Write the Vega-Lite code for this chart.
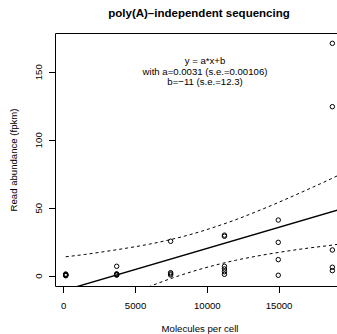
{
  "$schema": "https://vega.github.io/schema/vega-lite/v6.json",
  "width": 282,
  "height": 253,
  "autosize": {"type": "none"},
  "padding": {"left": 55, "top": 33, "right": 0, "bottom": 48},
  "view": {"stroke": "transparent", "fill": "white"},
  "title": {"text": "poly(A)–independent sequencing", "fontSize": 11.5, "fontWeight": "bold", "font": "Liberation Sans", "anchor": "middle", "offset": 5, "baseline": "alphabetic", "dx": 3, "color": "black"},
  "config": {
    "view": {"stroke": "transparent"},
    "style": {"cell": {"stroke": "transparent"}},
    "font": "Liberation Sans",
    "axis": {"grid": false, "domainColor": "black", "tickColor": "black", "labelColor": "black", "titleColor": "black", "labelFontSize": 9.6, "titleFontSize": 9.6, "titleFontWeight": "normal", "tickSize": 6.5, "domainWidth": 1, "tickWidth": 1, "labelFont": "Liberation Sans", "titleFont": "Liberation Sans"}
  },
  "datasets": {
    "pts": [
      {"mol": 170, "fpkm": 0}, {"mol": 170, "fpkm": 0.2}, {"mol": 170, "fpkm": 0.5}, {"mol": 170, "fpkm": 0.8}, {"mol": 170, "fpkm": 1.2},
      {"mol": 3720, "fpkm": 0.4}, {"mol": 3720, "fpkm": 0.7}, {"mol": 3720, "fpkm": 1.0}, {"mol": 3720, "fpkm": 1.3}, {"mol": 3720, "fpkm": 6.9},
      {"mol": 7480, "fpkm": 0.5}, {"mol": 7480, "fpkm": 1.3}, {"mol": 7480, "fpkm": 2.2}, {"mol": 7480, "fpkm": 25.3},
      {"mol": 11230, "fpkm": 1.0}, {"mol": 11230, "fpkm": 2.9}, {"mol": 11230, "fpkm": 4.9}, {"mol": 11230, "fpkm": 6.9}, {"mol": 11230, "fpkm": 29.0}, {"mol": 11230, "fpkm": 29.8},
      {"mol": 14980, "fpkm": 0.3}, {"mol": 14980, "fpkm": 11.8}, {"mol": 14980, "fpkm": 24.5}, {"mol": 14980, "fpkm": 40.9},
      {"mol": 18750, "fpkm": 3.7}, {"mol": 18750, "fpkm": 6.2}, {"mol": 18750, "fpkm": 18.9}, {"mol": 18750, "fpkm": 124.3}, {"mol": 18750, "fpkm": 170.9}
    ],
    "fit": [
      {"mol": 0, "fpkm": -11}, {"mol": 19500, "fpkm": 49.45}
    ],
    "ci": [
      {"band": "upper", "mol": 170, "fpkm": 13.9}, {"band": "upper", "mol": 1500, "fpkm": 15.6}, {"band": "upper", "mol": 3000, "fpkm": 17.9}, {"band": "upper", "mol": 4500, "fpkm": 20.4}, {"band": "upper", "mol": 6000, "fpkm": 23.2}, {"band": "upper", "mol": 7500, "fpkm": 26.6}, {"band": "upper", "mol": 9391, "fpkm": 31.9}, {"band": "upper", "mol": 10500, "fpkm": 35.6}, {"band": "upper", "mol": 12000, "fpkm": 41.1}, {"band": "upper", "mol": 13500, "fpkm": 47.3}, {"band": "upper", "mol": 15000, "fpkm": 53.9}, {"band": "upper", "mol": 16800, "fpkm": 62.3}, {"band": "upper", "mol": 18750, "fpkm": 71.7}, {"band": "upper", "mol": 19500, "fpkm": 75.5},
      {"band": "lower", "mol": 170, "fpkm": -34.7}, {"band": "lower", "mol": 1500, "fpkm": -28.3}, {"band": "lower", "mol": 3000, "fpkm": -21.3}, {"band": "lower", "mol": 4500, "fpkm": -14.5}, {"band": "lower", "mol": 6000, "fpkm": -8.0}, {"band": "lower", "mol": 7500, "fpkm": -2.1}, {"band": "lower", "mol": 9391, "fpkm": 4.3}, {"band": "lower", "mol": 10500, "fpkm": 7.5}, {"band": "lower", "mol": 12000, "fpkm": 11.3}, {"band": "lower", "mol": 13500, "fpkm": 14.4}, {"band": "lower", "mol": 15000, "fpkm": 17.1}, {"band": "lower", "mol": 16800, "fpkm": 19.9}, {"band": "lower", "mol": 18750, "fpkm": 22.5}, {"band": "lower", "mol": 19500, "fpkm": 23.6}
    ],
    "txt": [
      {"mol": 9875, "fpkm": 158.2, "t": "y = a*x+b"},
      {"mol": 9875, "fpkm": 150.1, "t": "with a=0.0031 (s.e.=0.00106)"},
      {"mol": 9875, "fpkm": 142.1, "t": "b=−11 (s.e.=12.3)"}
    ]
  },
  "layer": [
    {
      "data": {"name": "pts"},
      "mark": {"type": "point", "filled": false, "stroke": "black", "strokeWidth": 1, "size": 20, "opacity": 1},
      "encoding": {
        "x": {"field": "mol", "type": "quantitative", "scale": {"domain": [-578, 19073], "nice": false, "zero": false},
          "axis": {"orient": "bottom", "values": [0, 5000, 10000, 15000], "format": "d", "labelPadding": 15.5, "labelBaseline": "alphabetic", "labelFlush": false, "labelOverlap": false, "title": "Molecules per cell", "titleX": 144.5, "titleY": 45.5, "titleBaseline": "alphabetic", "titleAlign": "center"}},
        "y": {"field": "fpkm", "type": "quantitative", "scale": {"domain": [-7.6, 178.5], "nice": false, "zero": false},
          "axis": {"values": [0, 50, 100, 150], "labelAngle": -90, "labelAlign": "center", "labelBaseline": "alphabetic", "labelPadding": 7.5, "labelFlush": false, "labelOverlap": false, "title": "Read abundance (fpkm)", "titleX": -38.5, "titleY": 126.5, "titleAngle": -90, "titleBaseline": "alphabetic", "titleAlign": "center"}}
      }
    },
    {
      "data": {"name": "fit"},
      "mark": {"type": "line", "color": "black", "strokeWidth": 1.4, "clip": true},
      "encoding": {
        "x": {"field": "mol", "type": "quantitative", "axis": null},
        "y": {"field": "fpkm", "type": "quantitative"}
      }
    },
    {
      "data": {"name": "ci"},
      "mark": {"type": "line", "color": "black", "strokeWidth": 1, "strokeDash": [3, 3], "clip": true, "interpolate": "monotone"},
      "encoding": {
        "x": {"field": "mol", "type": "quantitative", "axis": {"orient": "top", "ticks": false, "labels": false, "domain": true, "title": null, "grid": false}},
        "y": {"field": "fpkm", "type": "quantitative"},
        "detail": {"field": "band", "type": "nominal"}
      }
    },
    {
      "data": {"name": "txt"},
      "mark": {"type": "text", "fontSize": 9.6, "font": "Liberation Sans", "color": "black", "align": "center", "baseline": "middle"},
      "encoding": {
        "x": {"field": "mol", "type": "quantitative", "axis": null},
        "y": {"field": "fpkm", "type": "quantitative"},
        "text": {"field": "t", "type": "nominal"}
      }
    }
  ],
  "resolve": {"axis": {"x": "independent"}}
}
